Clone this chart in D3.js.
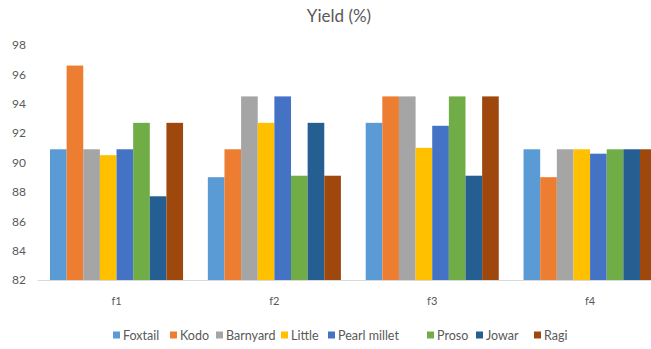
<!DOCTYPE html>
<html>
<head>
<meta charset="utf-8">
<script src="https://cdn.jsdelivr.net/npm/d3@7"></script>
<style>
  html, body { margin: 0; padding: 0; background: #fff; }
  svg { display: block; font-family: Lato, "Open Sans", sans-serif; }
</style>
</head>
<body>
<svg id="chart" width="651" height="349"></svg>
<script>
// Yield (%) by fertiliser level for eight millets
const categories = ["f1", "f2", "f3", "f4"];
const seriesNames = ["Foxtail", "Kodo", "Barnyard", "Little", "Pearl millet", "Proso", "Jowar", "Ragi"];
const foxtail     = [90.9, 89.0, 92.7, 90.9];
const kodo        = [96.6, 90.9, 94.5, 89.0];
const barnyard    = [90.9, 94.5, 94.5, 90.9];
const little      = [90.5, 92.7, 91.0, 90.9];
const pearlMillet = [90.9, 94.5, 92.5, 90.6];
const proso       = [92.7, 89.1, 94.5, 90.9];
const jowar       = [87.7, 92.7, 89.1, 90.9];
const ragi        = [92.7, 89.1, 94.5, 90.9];
const yTicks = [82, 84, 86, 88, 90, 92, 94, 96, 98];
const colors = ["#5B9BD5", "#ED7D31", "#A5A5A5", "#FFC000", "#4472C4", "#70AD47", "#255E91", "#9E480E"];

const seriesValues = [foxtail, kodo, barnyard, little, pearlMillet, proso, jowar, ragi];

const svg = d3.select("#chart");
const plot = { left: 37.6, right: 669, top: 45, bottom: 280 };

const y = d3.scaleLinear().domain([82, 98]).range([plot.bottom, plot.top]);
const x0 = d3.scaleBand().domain(categories).range([plot.left, plot.right])
  .paddingInner(0.157).paddingOuter(0.0785);
const x1 = d3.scaleBand().domain(seriesNames).range([0, x0.bandwidth()]).padding(0);

// title
svg.append("text")
  .attr("x", 339).attr("y", 22)
  .attr("text-anchor", "middle")
  .attr("font-size", 17)
  .attr("fill", "#595959")
  .text("Yield (%)");

// y axis labels (no axis line, no gridlines)
const yAxis = d3.axisLeft(y).tickValues(yTicks).tickSize(0).tickPadding(0);
const yg = svg.append("g").attr("transform", "translate(26,0)").call(yAxis);
yg.select(".domain").remove();
yg.selectAll("text").attr("font-size", 12).attr("fill", "#595959")
  .attr("font-family", "Lato, 'Open Sans', sans-serif");

// bars
const groups = svg.append("g").selectAll("g")
  .data(categories)
  .join("g")
  .attr("transform", d => `translate(${x0(d)},0)`);

groups.selectAll("rect")
  .data((c, ci) => seriesNames.map((s, si) => ({ s, si, v: seriesValues[si][ci] })))
  .join("rect")
  .attr("x", d => x1(d.s))
  .attr("y", d => y(d.v))
  .attr("width", x1.bandwidth())
  .attr("height", d => y(82) - y(d.v))
  .attr("fill", d => colors[d.si]);

// category axis
const xAxis = d3.axisBottom(x0).tickSize(0).tickPadding(17);
const xg = svg.append("g").attr("transform", `translate(0,${plot.bottom})`).call(xAxis);
xg.select(".domain").attr("stroke", "#D9D9D9").attr("stroke-width", 1)
  .attr("d", `M${plot.left},0.5H${plot.right}`);
xg.selectAll("text").attr("font-size", 11).attr("fill", "#595959")
  .attr("font-family", "Lato, 'Open Sans', sans-serif");

// legend
const legendX = [113, 170, 216, 281, 328, 427, 476, 534];
const legend = svg.append("g").selectAll("g")
  .data(seriesNames)
  .join("g")
  .attr("transform", (d, i) => `translate(${legendX[i]},335)`);
legend.append("rect")
  .attr("x", 0).attr("y", -3.5).attr("width", 7).attr("height", 7)
  .attr("fill", (d, i) => colors[i]);
legend.append("text")
  .attr("x", 10).attr("y", 4.5)
  .attr("font-size", 12.5)
  .attr("fill", "#595959")
  .text(d => d);
</script>
</body>
</html>
